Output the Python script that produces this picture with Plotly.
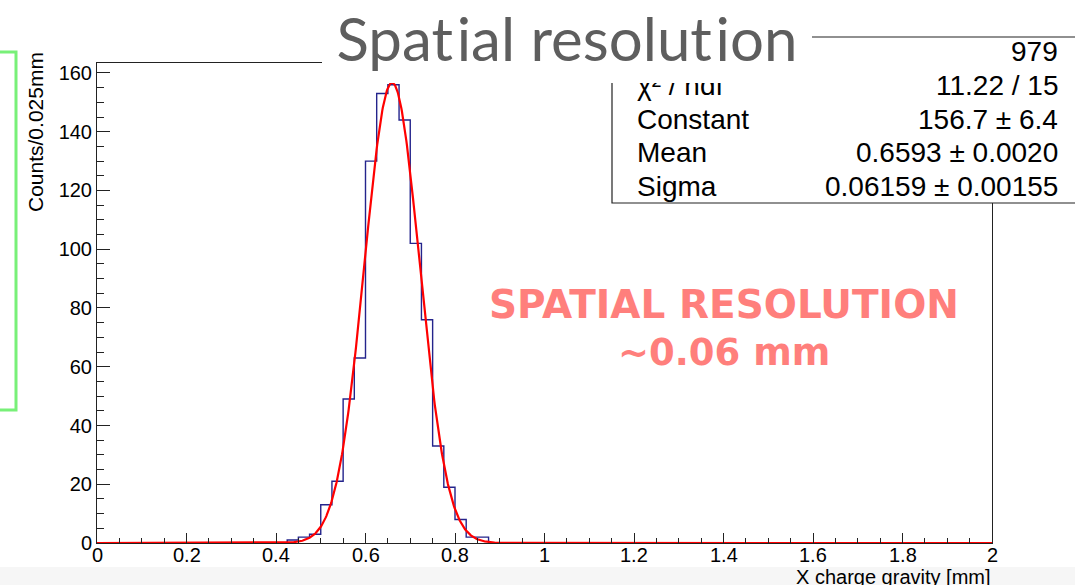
import numpy as np
import plotly.graph_objects as go

# ---------------- data ----------------
bin_width = 0.025
x_min, x_max = 0.0, 2.0
# counts per 0.025 mm bin (80 bins from 0 to 2 mm)
counts = [0] * 17 + [1, 2, 3, 13, 21, 49, 63, 130, 153, 156, 144, 102, 76, 33, 19, 8, 2, 2] + [0] * 45

# Gaussian fit parameters (from the stats box)
fit_constant = 156.7
fit_mean = 0.6593
fit_sigma = 0.06159

stat_labels = ["Entries", "\u03c7\u00b2 / ndf", "Constant", "Mean", "Sigma"]
stat_values = ["979", "11.22 / 15", "156.7 \u00b1 6.4", "0.6593 \u00b1 0.0020", "0.06159 \u00b1 0.00155"]

x_ticks = [0, 0.2, 0.4, 0.6, 0.8, 1, 1.2, 1.4, 1.6, 1.8, 2]
x_tick_text = ["0", "0.2", "0.4", "0.6", "0.8", "1", "1.2", "1.4", "1.6", "1.8", "2"]
y_ticks = [0, 20, 40, 60, 80, 100, 120, 140, 160]

# ---------------- layout helpers ----------------
WIDTH, HEIGHT = 1075, 585
L, R, T, B = 97, 992, 63, 543
PW, PH = R - L, B - T
Y_TOP = 163.4


def px(xp):
    return (xp - L) / PW


def py(yp):
    return (B - yp) / PH


edges = [x_min + i * bin_width for i in range(len(counts) + 1)]
hist_x = edges
hist_y = counts + [counts[-1]]

fit_x = np.linspace(x_min, x_max, 1601)
fit_y = fit_constant * np.exp(-0.5 * ((fit_x - fit_mean) / fit_sigma) ** 2)

fig = go.Figure()
fig.add_trace(go.Scatter(x=hist_x, y=hist_y, mode="lines", line_shape="hv",
                         line=dict(color="#24248c", width=1.4), hoverinfo="skip"))
fig.add_trace(go.Scatter(x=fit_x, y=fit_y, mode="lines",
                         line=dict(color="#ff0000", width=2.2), hoverinfo="skip"))

axis_font = dict(family="Liberation Sans, Arial, sans-serif", size=20, color="#000000")

fig.update_layout(
    width=WIDTH, height=HEIGHT,
    margin=dict(l=L, r=WIDTH - R, t=T, b=HEIGHT - B, autoexpand=False),
    paper_bgcolor="white", plot_bgcolor="white",
    showlegend=False,
    xaxis=dict(range=[x_min, x_max], tickvals=x_ticks, ticks="inside", ticklen=10,
               tickwidth=1, tickcolor="#222", showline=True, linecolor="#222",
               linewidth=1, mirror=True, showgrid=False, zeroline=False,
               showticklabels=False,
               minor=dict(dtick=0.05, ticks="inside", ticklen=5, tickcolor="#222",
                          tickwidth=1, showgrid=False)),
    yaxis=dict(range=[0, Y_TOP], tickvals=y_ticks, ticks="inside", ticklen=13,
               tickwidth=1, tickcolor="#222", showline=True, linecolor="#222",
               linewidth=1, mirror=True, showgrid=False, zeroline=False,
               tickfont=axis_font,
               minor=dict(dtick=5, ticks="inside", ticklen=7, tickcolor="#222",
                          tickwidth=1, showgrid=False)),
)

shapes = [
    # faint grey band at the bottom of the slide
    dict(type="rect", xref="paper", yref="paper", x0=px(-5), x1=px(1080),
         y0=py(590), y1=py(567), fillcolor="#f6f6f6", line=dict(width=0), layer="below"),
    # stats box
    dict(type="rect", xref="paper", yref="paper", x0=px(612), x1=px(1090),
         y0=py(203), y1=py(37), fillcolor="white", line=dict(color="#222", width=1.2),
         layer="above"),
    # green hand-drawn bracket at the left edge
    dict(type="path", xref="paper", yref="paper",
         path=f"M {px(-3)},{py(52)} L {px(16)},{py(52)} L {px(16)},{py(410)} L {px(-3)},{py(410)}",
         line=dict(color="#78f078", width=3), layer="above"),
]
fig.update_layout(shapes=shapes)

ann = []
# x tick labels placed from the tick arrays
for tv, tt in zip(x_ticks, x_tick_text):
    ann.append(dict(text=tt, xref="x", yref="paper", x=tv, y=py(555),
                    xanchor="center", yanchor="middle", showarrow=False, font=axis_font))

row_y = [52, 85.5, 119, 152.5, 186]
stat_font = dict(family="Liberation Sans, Arial, sans-serif", size=28, color="#000000")
for lab, val, ry in zip(stat_labels, stat_values, row_y):
    ann.append(dict(text=lab, xref="paper", yref="paper", x=px(635), y=py(ry),
                    xanchor="left", yanchor="middle", showarrow=False, font=stat_font))
    ann.append(dict(text=val, xref="paper", yref="paper", x=px(1060), y=py(ry),
                    xanchor="right", yanchor="middle", showarrow=False, font=stat_font))

# axis titles
ann.append(dict(text="Counts/0.025mm", xref="paper", yref="paper", x=px(35), y=py(50),
                xanchor="center", yanchor="top", textangle=-90, showarrow=False,
                font=dict(family="Liberation Sans, Arial, sans-serif", size=21, color="#000")))
ann.append(dict(text="X charge gravity [mm]", xref="paper", yref="paper", x=px(993), y=py(577),
                xanchor="right", yanchor="middle", showarrow=False,
                font=dict(family="Liberation Sans, Arial, sans-serif", size=20, color="#000")))

# red overlay text
ann.append(dict(text="SPATIAL RESOLUTION", xref="paper", yref="paper", x=px(724), y=py(304),
                xanchor="center", yanchor="middle", showarrow=False,
                font=dict(family="DejaVu Sans", size=39, color="#ff7f7c", weight="bold")))
ann.append(dict(text="~0.06 mm", xref="paper", yref="paper", x=px(724), y=py(352),
                xanchor="center", yanchor="middle", showarrow=False,
                font=dict(family="DejaVu Sans", size=37, color="#ff7f7c", weight="bold")))

# slide title on a white box (drawn last so it covers what lies beneath)
ann.append(dict(text="Spat\u200ai\u200aal resolut\u200aion".replace("i\u200aa", "ia"),
                xref="paper", yref="paper",
                x=px(322), y=py(-8),
                xanchor="left", yanchor="top", width=490, height=91, bgcolor="white",
                borderpad=0, borderwidth=0, align="center", valign="middle", showarrow=False,
                font=dict(family="Lato, sans-serif", size=60, color="#5e5e5e")))

fig.update_layout(annotations=ann)
fig.write_html("out.html")
